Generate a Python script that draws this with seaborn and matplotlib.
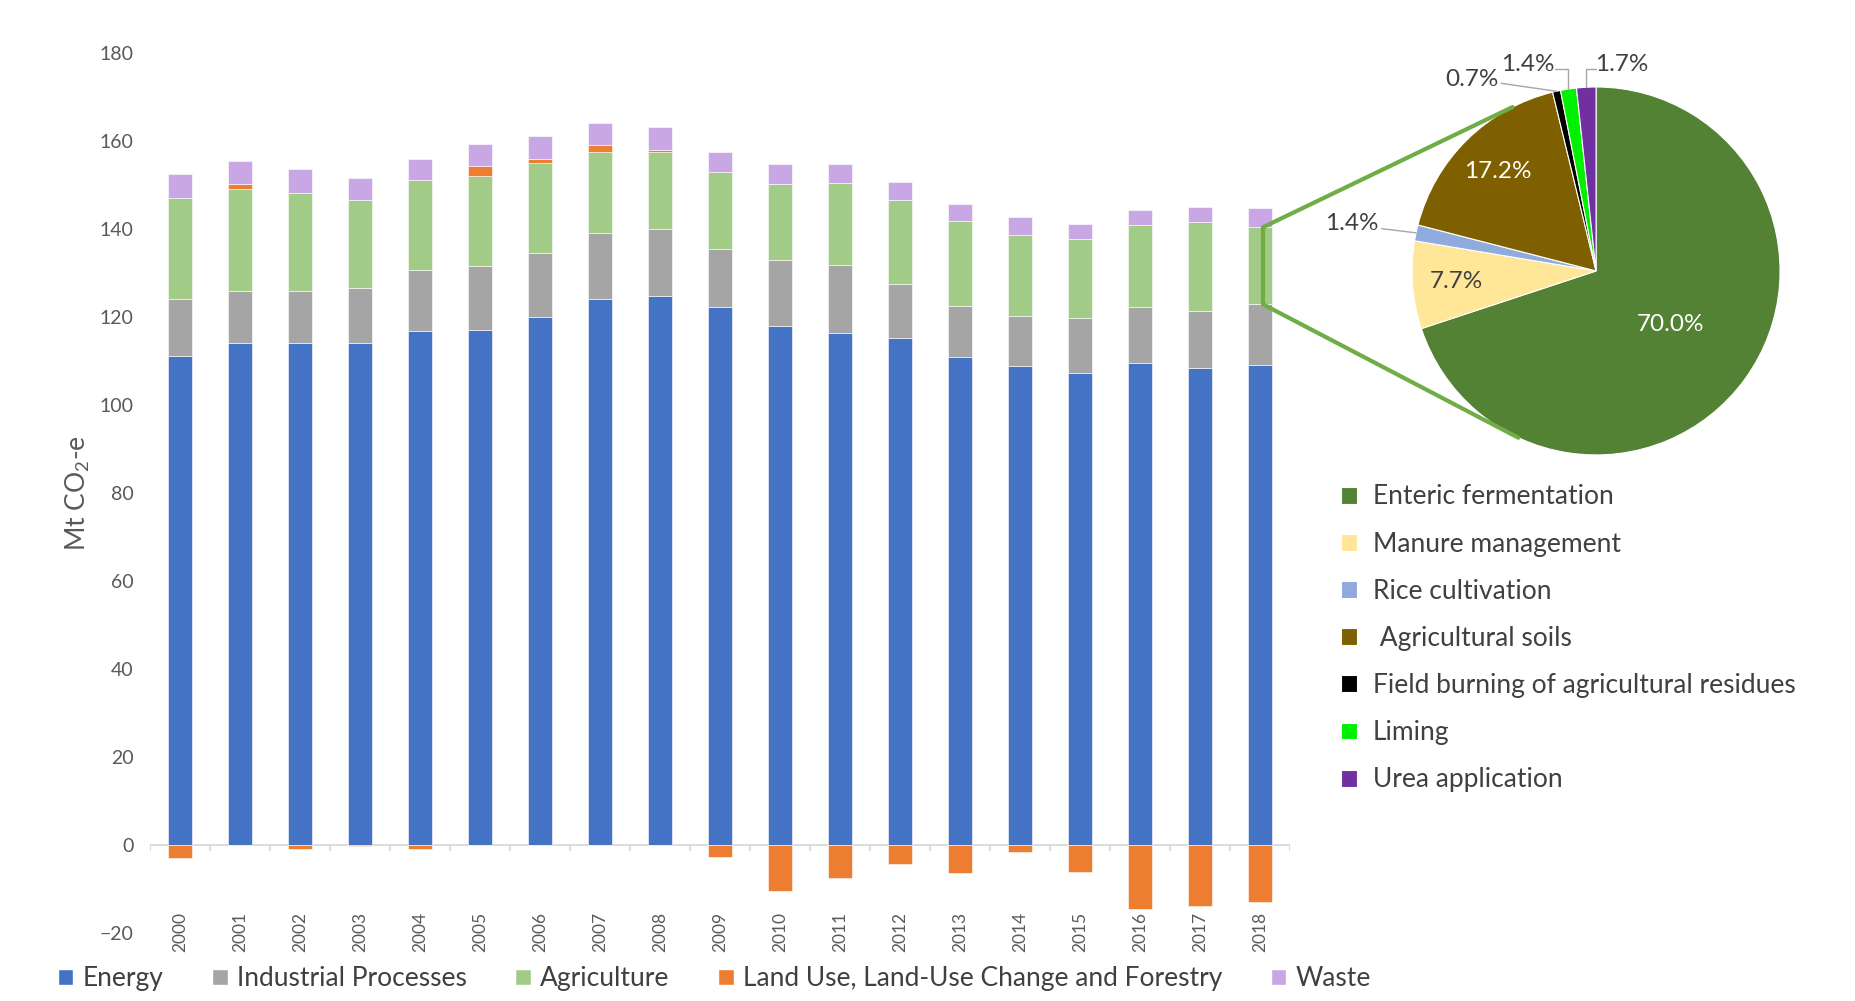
import numpy as np
import pandas as pd
import matplotlib.pyplot as plt
import seaborn as sns
from matplotlib.patches import Patch, ConnectionPatch

# --- dados (Mt CO2-e) ---
years = [str(y) for y in range(2000, 2019)]
energy = [111.1, 114.0, 114.0, 114.0, 116.8, 117.1, 120.0, 124.2, 124.8, 122.3,
          118.0, 116.3, 115.2, 110.8, 108.9, 107.2, 109.5, 108.3, 109.1]
industrial = [13.1, 11.9, 11.9, 12.7, 13.9, 14.5, 14.5, 15.0, 15.3, 13.1,
              15.0, 15.5, 12.4, 11.7, 11.3, 12.5, 12.7, 13.0, 13.8]
agriculture = [22.9, 23.2, 22.2, 20.0, 20.4, 20.5, 20.6, 18.4, 17.5, 17.5,
               17.2, 18.6, 19.1, 19.3, 18.4, 18.1, 18.7, 20.2, 17.5]
lulucf = [-3.0, 1.1, -1.0, -0.3, -1.0, 2.3, 0.9, 1.5, 0.4, -2.8,
          -10.5, -7.6, -4.4, -6.4, -1.6, -6.2, -14.6, -13.8, -13.0]
waste = [5.5, 5.2, 5.6, 5.0, 4.9, 5.0, 5.1, 5.1, 5.1, 4.7,
         4.6, 4.4, 4.1, 4.0, 4.1, 3.4, 3.4, 3.6, 4.4]

sectors = ['Energy', 'Industrial Processes', 'Agriculture',
           'Land Use, Land-Use Change and Forestry', 'Waste']
sector_colors = ['#4472C4', '#A5A5A5', '#A1CB87', '#ED7D31', '#C9A6E4']

# agricultura 2018 (%)
ag_sources = ['Enteric fermentation', 'Manure management', 'Rice cultivation',
              ' Agricultural soils', 'Field burning of agricultural residues',
              'Liming', 'Urea application']
ag_share = [70.0, 7.7, 1.4, 17.2, 0.7, 1.4, 1.7]
ag_colors = ['#548235', '#FFE699', '#8FAADC', '#7F6000', '#000000', '#00F000', '#7030A0']

# --- estilo ---
sns.set_theme(style="white")
plt.rcParams['font.family'] = ['Lato', 'DejaVu Sans']
txt = '#595959'

df = pd.DataFrame({'Year': years, 'Energy': energy, 'Industrial': industrial,
                   'Agriculture': agriculture, 'LULUCF': lulucf, 'Waste': waste})
lu_pos = df['LULUCF'].clip(lower=0).values
lu_neg = df['LULUCF'].clip(upper=0).values
b_ind = df['Energy'].values
b_agr = b_ind + df['Industrial'].values
b_lu = b_agr + df['Agriculture'].values
b_waste = b_lu + lu_pos

fig = plt.figure(figsize=(18.56, 10.01), dpi=100)
ax = fig.add_axes([0.0808, 0.068, 0.6142, 0.879])

bw = 0.4
kw = dict(width=bw, saturation=1, ax=ax, edgecolor='white', linewidth=0.4)
sns.barplot(x=df['Year'], y=df['Energy'], color=sector_colors[0], **kw)
sns.barplot(x=df['Year'], y=df['Industrial'], bottom=b_ind, color=sector_colors[1], **kw)
sns.barplot(x=df['Year'], y=df['Agriculture'], bottom=b_agr, color=sector_colors[2], **kw)
sns.barplot(x=df['Year'], y=lu_pos, bottom=b_lu, color=sector_colors[3], **kw)
sns.barplot(x=df['Year'], y=lu_neg, color=sector_colors[3], **kw)
sns.barplot(x=df['Year'], y=df['Waste'], bottom=b_waste, color=sector_colors[4], **kw)

ax.set_xlim(-0.5, len(years) - 0.5)
ax.set_ylim(-20, 180)
ax.set_yticks(range(-20, 181, 20))
ax.set_xticks(range(len(years)))
ax.set_xticklabels(years)
ax.set_xlabel('')
ax.set_ylabel('Mt CO$\\mathregular{_2}$-e', fontsize=19, color=txt, labelpad=5)
ax.tick_params(axis='y', length=0, pad=12, labelsize=14, labelcolor=txt)
ax.tick_params(axis='x', length=0, pad=-15, labelsize=12.5, labelcolor=txt, labelrotation=90)
sns.despine(ax=ax, left=True, bottom=True)

# linha do zero com marcas entre categorias
ax.axhline(0, color='#D9D9D9', lw=1.3, zorder=0.5)
ax.vlines(np.arange(-0.5, len(years)), -1.3, 0, color='#D9D9D9', lw=1.3)

# --- pizza da agricultura ---
ax_pie = fig.add_axes([0.7608, 0.5455, 0.1983, 0.3676])
wedges, _ = ax_pie.pie(ag_share, colors=ag_colors, startangle=90, counterclock=False,
                       wedgeprops=dict(edgecolor='white', linewidth=0.8))
ax_pie.set_xlim(-1, 1)
ax_pie.set_ylim(-1, 1)
ax_pie.set_aspect('equal')

lbl = '#404040'
for i, (w, v) in enumerate(zip(wedges, ag_share)):
    a = np.deg2rad((w.theta1 + w.theta2) / 2)
    cx, cy = np.cos(a), np.sin(a)
    s = f'{v:.1f}%'
    if i == 0:
        ax_pie.text(0.5 * cx, 0.5 * cy, s, color='white', fontsize=17.5, ha='center', va='center')
    elif i == 1:
        ax_pie.text(0.76 * cx, 0.76 * cy, s, color=lbl, fontsize=17.5, ha='center', va='center')
    elif i == 3:
        ax_pie.text(0.76 * cx, 0.76 * cy, s, color='white', fontsize=17.5, ha='center', va='center')
    elif i == 2:
        ax_pie.text(-1.18, 0.26, s, color=lbl, fontsize=17.5, ha='right', va='center')
        ax_pie.plot([-1.165, cx], [0.23, cy], color='#A6A6A6', lw=1, clip_on=False)
    elif i == 4:
        ax_pie.text(-0.53, 1.043, s, color=lbl, fontsize=17.5, ha='right', va='center')
        ax_pie.plot([-0.516, cx], [1.02, cy], color='#A6A6A6', lw=1, clip_on=False)
    elif i == 5:
        ax_pie.text(-0.37, 1.12, s, color=lbl, fontsize=17.5, ha='center', va='center')
        ax_pie.plot([-0.223, cx, cx], [1.10, 1.10, cy], color='#A6A6A6', lw=1, clip_on=False)
    elif i == 6:
        ax_pie.text(0.14, 1.12, s, color=lbl, fontsize=17.5, ha='center', va='center')
        ax_pie.plot([0.0, cx, cx], [1.10, 1.10, cy], color='#A6A6A6', lw=1, clip_on=False)

# ligação da barra de 2018 (agricultura) para a pizza
xb = len(years) - 1 + 0.05
ax.plot([xb, xb], [b_agr[-1], b_lu[-1]], color='#70AD47', lw=3, solid_capstyle='butt')
for yb, ang in [(b_lu[-1], 117), (b_agr[-1], 245)]:
    t = np.deg2rad(ang)
    con = ConnectionPatch(xyA=(xb, yb), coordsA=ax.transData,
                          xyB=(np.cos(t), np.sin(t)), coordsB=ax_pie.transData,
                          color='#70AD47', lw=3)
    fig.add_artist(con)

# legendas
fig.legend(wedges, ag_sources, loc='upper left', bbox_to_anchor=(0.7225, 0.516),
           frameon=False, fontsize=19, labelcolor=lbl, handlelength=0.6, handleheight=0.6,
           handletextpad=0.6, labelspacing=0.84, borderaxespad=0, borderpad=0)

handles = [Patch(facecolor=c) for c in sector_colors]
fig.legend(handles, sectors, loc='center left', bbox_to_anchor=(0.03125, 0.022), ncol=5,
           frameon=False, fontsize=19, labelcolor=lbl, handlelength=0.58, handleheight=0.58,
           handletextpad=0.35, columnspacing=1.85, borderaxespad=0, borderpad=0)

fig.savefig('out.png', dpi=100)
